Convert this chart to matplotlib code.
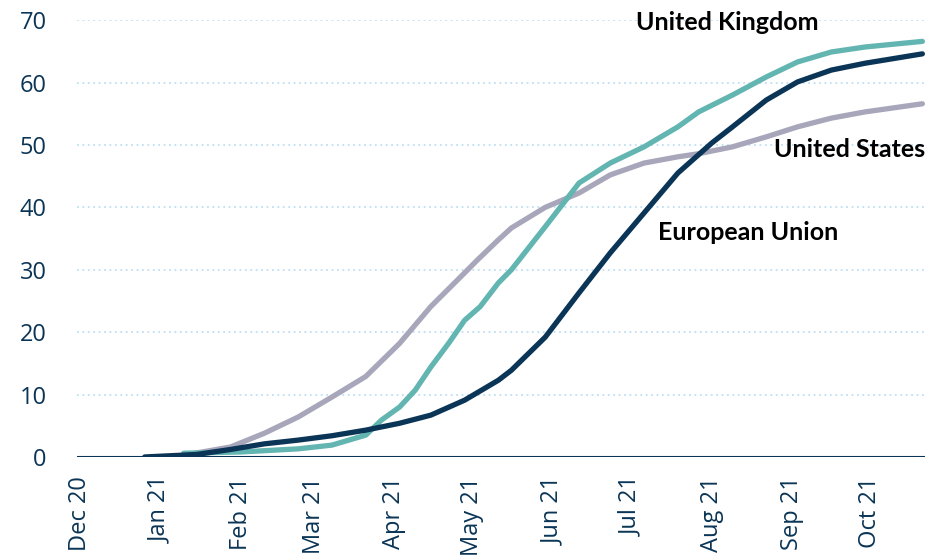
import datetime as dt
import matplotlib.pyplot as plt
import matplotlib.dates as mdates

# share of population fully vaccinated, %
uk_dates = ["2021-01-10", "2021-02-01", "2021-02-23", "2021-03-08", "2021-03-21",
            "2021-03-27", "2021-04-03", "2021-04-09", "2021-04-15", "2021-04-22",
            "2021-04-28", "2021-05-04", "2021-05-11", "2021-05-16", "2021-05-29",
            "2021-06-11", "2021-06-23", "2021-07-06", "2021-07-19", "2021-07-27",
            "2021-08-09", "2021-08-22", "2021-09-03", "2021-09-16", "2021-09-29",
            "2021-10-21"]
uk_values = [0.6, 0.8, 1.3, 1.9, 3.5,
             5.9, 8.0, 10.7, 14.4, 18.3,
             21.9, 24.1, 27.9, 30.0, 36.9,
             43.9, 47.1, 49.7, 52.9, 55.3,
             58.0, 60.9, 63.3, 64.9, 65.7,
             66.6]

eu_dates = ["2020-12-26", "2021-01-15", "2021-01-28", "2021-02-10", "2021-02-23",
            "2021-03-08", "2021-03-21", "2021-04-03", "2021-04-15", "2021-04-28",
            "2021-05-11", "2021-05-16", "2021-05-29", "2021-06-11", "2021-06-23",
            "2021-07-06", "2021-07-19", "2021-08-01", "2021-08-09", "2021-08-22",
            "2021-09-03", "2021-09-16", "2021-09-29", "2021-10-21"]
eu_values = [0.0, 0.4, 1.2, 2.1, 2.7,
             3.4, 4.3, 5.4, 6.7, 9.1,
             12.3, 13.9, 19.2, 26.3, 32.7,
             39.1, 45.5, 50.3, 52.9, 57.2,
             60.1, 62.0, 63.1, 64.6]

us_dates = ["2021-01-13", "2021-01-28", "2021-02-10", "2021-02-23", "2021-03-08",
            "2021-03-21", "2021-04-03", "2021-04-15", "2021-04-28", "2021-05-03",
            "2021-05-11", "2021-05-16", "2021-05-29", "2021-06-11", "2021-06-23",
            "2021-07-06", "2021-07-19", "2021-07-27", "2021-08-09", "2021-08-22",
            "2021-09-03", "2021-09-16", "2021-09-29", "2021-10-21"]
us_values = [0.5, 1.6, 3.8, 6.4, 9.6,
             12.9, 18.2, 24.1, 29.5, 31.6,
             34.8, 36.7, 40.0, 42.3, 45.2,
             47.1, 48.1, 48.6, 49.7, 51.3,
             52.9, 54.3, 55.3, 56.6]

NAVY = "#0B3556"
TEAL = "#62B5B0"
GREY = "#A7A6BA"


def to_dates(items):
    return [dt.datetime.strptime(s, "%Y-%m-%d") for s in items]


plt.rcParams["font.family"] = ["Open Sans", "DejaVu Sans"]

fig = plt.figure(figsize=(9.4, 5.6), dpi=100)
ax = fig.add_axes([0.082, 0.184, 0.902, 0.78])

for y in range(10, 71, 10):
    ax.axhline(y, color="#BDE0F5", linestyle=(0, (1, 2)), linewidth=1.3, zorder=0)
ax.axhline(0, color=NAVY, linewidth=1.5, zorder=1)

line_kw = dict(linewidth=3.8, solid_capstyle="round", solid_joinstyle="round", zorder=3)
ax.plot(to_dates(us_dates), us_values, color=GREY, **line_kw)
ax.plot(to_dates(uk_dates), uk_values, color=TEAL, **line_kw)
ax.plot(to_dates(eu_dates), eu_values, color=NAVY, **line_kw)

label_kw = dict(fontsize=18, fontweight="bold", color="black",
                family=["Lato", "DejaVu Sans"], ha="center", va="center")
ax.text(dt.datetime(2021, 8, 7), 69.6, "United Kingdom", **label_kw)
ax.text(dt.datetime(2021, 9, 23), 49.2, "United States", **label_kw)
ax.text(dt.datetime(2021, 8, 15), 35.9, "European Union", **label_kw)

ax.set_xlim(dt.datetime(2020, 11, 30), dt.datetime(2021, 10, 22))
ax.set_ylim(0, 70)
ax.set_yticks(range(0, 71, 10))
ax.xaxis.set_major_locator(mdates.MonthLocator())
ax.xaxis.set_major_formatter(mdates.DateFormatter("%b %y"))
ax.tick_params(axis="both", length=0, labelsize=17, labelcolor=NAVY)
ax.tick_params(axis="x", rotation=90, pad=14)
ax.tick_params(axis="y", pad=22)
for spine in ax.spines.values():
    spine.set_visible(False)

fig.savefig("out.png", dpi=100)
